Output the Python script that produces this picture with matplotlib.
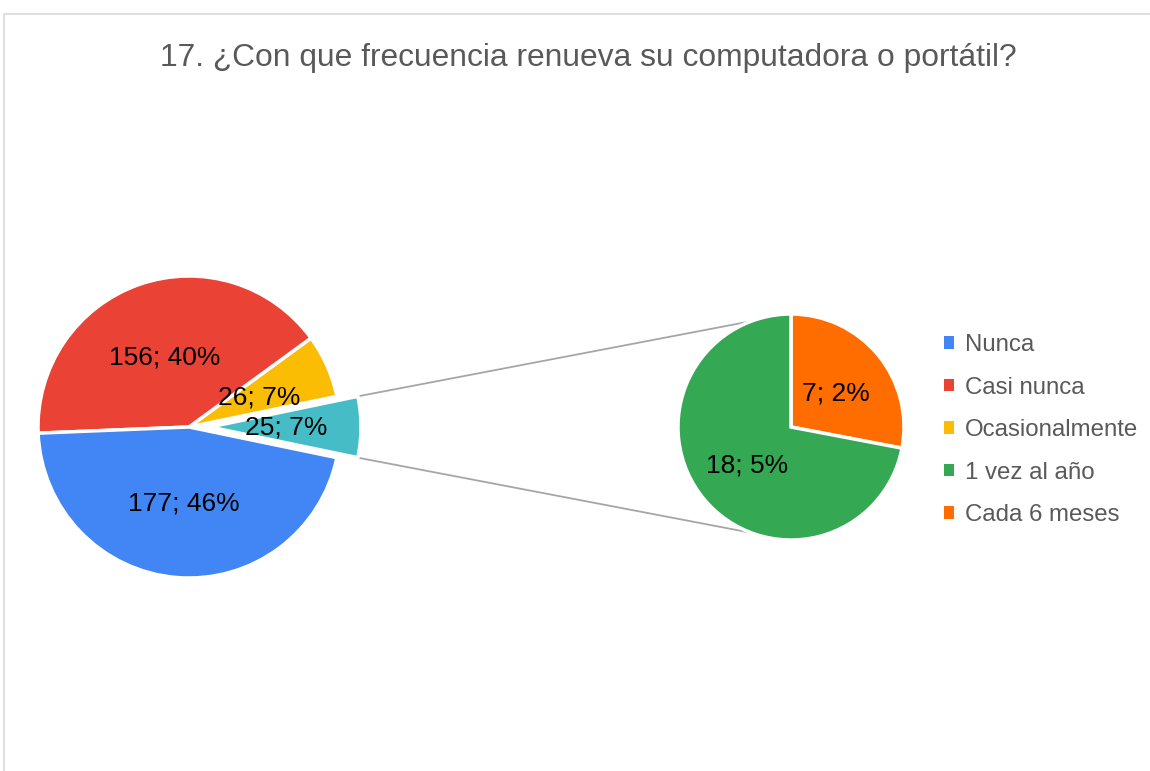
import matplotlib
matplotlib.use("Agg")
import matplotlib.pyplot as plt
from matplotlib.patches import Patch, Rectangle
import numpy as np

plt.rcParams['font.family'] = ['Liberation Sans', 'DejaVu Sans']

title = "17. ¿Con que frecuencia renueva su computadora o portátil?"

# main pie (the "other" slice is split into the second pie)
main_labels = ["Otro", "Ocasionalmente", "Casi nunca", "Nunca"]
main_values = [25, 26, 156, 177]
main_pct = [7, 7, 40, 46]
main_colors = ["#46BDC6", "#FBBC04", "#EA4335", "#4285F4"]

# secondary pie
sub_labels = ["Cada 6 meses", "1 vez al año"]
sub_values = [7, 18]
sub_pct = [2, 5]
sub_colors = ["#FF6D01", "#34A853"]

legend_labels = ["Nunca", "Casi nunca", "Ocasionalmente", "1 vez al año", "Cada 6 meses"]
legend_colors = ["#4285F4", "#EA4335", "#FBBC04", "#34A853", "#FF6D01"]

total = sum(main_values)

W, H = 1150, 771
fig = plt.figure(figsize=(W / 100, H / 100), dpi=100)
ax = fig.add_axes([0, 0, 1, 1])

# chart frame
ax.add_patch(Rectangle((4, -20), W + 20, H - 14 + 20, fill=False,
                       edgecolor="#D9D9D9", linewidth=1.2))

ax.text(588, H - 58, title, ha='center', va='center', fontsize=22.9, color="#595959")

# left pie
c1 = (189, H - 427)
r1 = 151
start1 = -360 * main_values[0] / total / 2
wedges1, _ = ax.pie(main_values, colors=main_colors, startangle=start1,
                    center=c1, radius=r1, explode=[21, 0, 0, 0],
                    wedgeprops=dict(edgecolor='white', linewidth=2.5),
                    frame=True)

# right pie
c2 = (791, H - 427)
r2 = 113
wedges2, _ = ax.pie(sub_values, colors=sub_colors, startangle=90, counterclock=False,
                    center=c2, radius=r2,
                    wedgeprops=dict(edgecolor='white', linewidth=2.5),
                    frame=True)
ax.set_xlim(0, W)
ax.set_ylim(0, H)
ax.set_aspect('equal')
ax.axis('off')

# connector lines from the exploded slice to the second pie
cyan = wedges1[0]
cx, cy = cyan.center
for th, th2 in [(cyan.theta2, 110.5), (cyan.theta1, -110.5)]:
    x0 = cx + r1 * np.cos(np.radians(th))
    y0 = cy + r1 * np.sin(np.radians(th))
    x1 = c2[0] + r2 * np.cos(np.radians(th2))
    y1 = c2[1] + r2 * np.sin(np.radians(th2))
    ax.plot([x0, x1], [y0, y1], color="#A6A6A6", linewidth=1.3, zorder=0)

# data labels
main_pos = [(286, 428), (259, 397), (165, 357), (184, 504)]
for v, p, (x, y) in zip(main_values, main_pct, main_pos):
    ax.text(x, H - y, "%d; %d%%" % (v, p), ha='center', va='center', fontsize=19, color='black')
sub_pos = [(836, 394), (747, 465)]
for v, p, (x, y) in zip(sub_values, sub_pct, sub_pos):
    ax.text(x, H - y, "%d; %d%%" % (v, p), ha='center', va='center', fontsize=19, color='black')

handles = [Patch(facecolor=c, edgecolor='none') for c in legend_colors]
leg = ax.legend(handles, legend_labels, loc='upper left', bbox_to_anchor=(944 / W, 1 - 334 / H),
                frameon=False, fontsize=17.3, handlelength=0.42, handleheight=0.42,
                handletextpad=0.45, labelspacing=0.855, borderpad=0, borderaxespad=0)
for t in leg.get_texts():
    t.set_color("#595959")

fig.savefig("out.png", dpi=100)
